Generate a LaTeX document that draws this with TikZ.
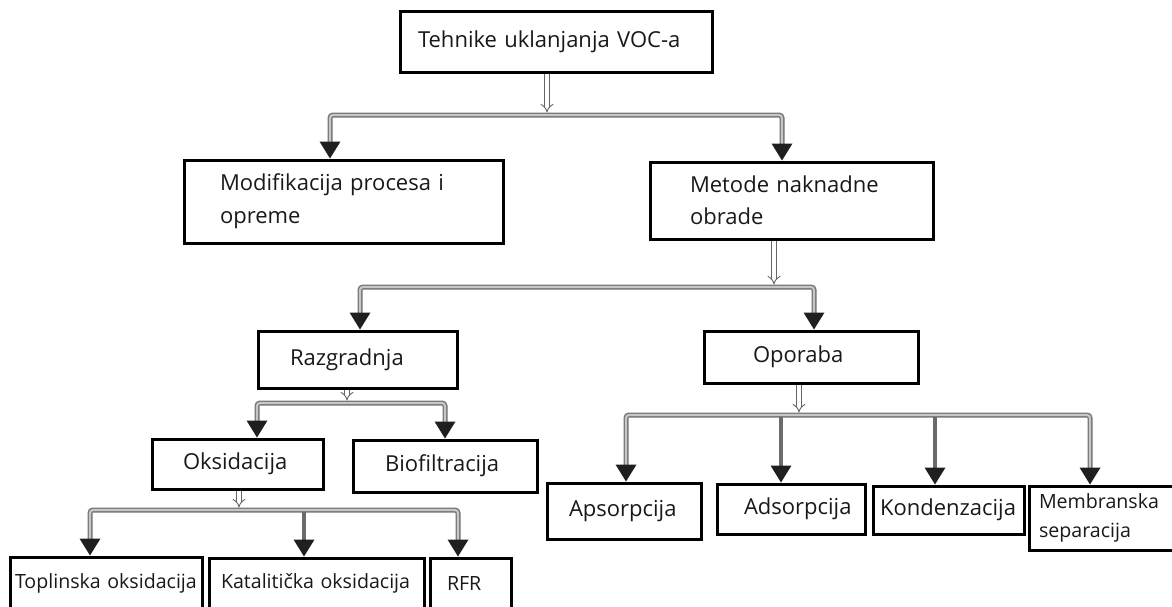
\documentclass[tikz,border=0pt]{standalone}
\usepackage{fontspec}
\setmainfont{Open Sans}
\usetikzlibrary{arrows.meta,calc}
\newcommand\tipto[1]{\fill[tipfill] #1 -- ++(-10.5,-17) -- ++(21,0) -- cycle;}
\begin{document}
\begin{tikzpicture}[x=1pt,y=-1pt,
  box/.style={draw=black, line width=3pt, fill=white, inner xsep=0pt, inner ysep=0pt,
    align=left, text=black!90, font=\fontsize{22}{30}\selectfont},
  small/.style={font=\fontsize{19.6}{29}\selectfont},
  bar/.style={draw=black!55, double=black!22, line width=1.4pt, double distance=2.2pt, rounded corners=3pt},
  stem/.style={draw=black!58, line width=4.4pt},
  dbl/.style={draw=black!60, line width=0.9pt, double=white, double distance=3.6pt, -{Implies}},
  tipfill/.style={fill=black!88}]
\useasboundingbox (0,0) rectangle (1172,606);
\clip (0,0) rectangle (1172,606);

% nodes
\node[box, text width=312pt, minimum height=61pt] (top) at (556,41.5) {\hspace*{18pt}Tehnike uklanjanja VOC-a};
\node[box, text width=319pt, minimum height=83pt, font=\fontsize{22}{33}\selectfont] (modif) at (343.5,201.5)
  {\hspace*{36pt}Modifikacija procesa i\\\hspace*{36pt}opreme};
\node[box, text width=283pt, minimum height=77pt, font=\fontsize{22}{32}\selectfont] (metode) at (791.5,200.5)
  {\hspace*{40pt}Metode naknadne\\\hspace*{40pt}obrade};
\node[box, text width=199pt, minimum height=57pt] (razg) at (357.5,359.5) {\hspace*{32pt}Razgradnja};
\node[box, text width=214pt, minimum height=52pt] (opor) at (811,357) {\hspace*{49pt}Oporaba};
\node[box, text width=171pt, minimum height=50pt] (oks) at (237.5,464) {\hspace*{31pt}Oksidacija};
\node[box, text width=184pt, minimum height=52pt] (bio) at (445,466) {\hspace*{32pt}Biofiltracija};
\node[box, small, text width=192pt, minimum height=52pt] (topl) at (106,583) {\hspace*{5pt}Toplinska oksidacija};
\node[box, small, text width=215pt, minimum height=51pt] (kat) at (316.5,583.5) {\hspace*{12pt}Katalitička oksidacija};
\node[box, small, text width=81pt, minimum height=51pt] (rfr) at (470.5,583.5) {\hspace*{17pt}RFR};
\node[box, text width=154pt, minimum height=56pt] (aps) at (624,511) {\hspace*{22pt}Apsorpcija};
\node[box, text width=148pt, minimum height=50pt] (ads) at (791,509) {\hspace*{27pt}Adsorpcija};
\node[box, text width=151pt, minimum height=48pt] (kond) at (948.5,510) {\hspace*{7pt}Kondenzacija};
\node[box, small, text width=161pt, minimum height=64pt] (memb) at (1109.5,518)
  {\hspace*{10pt}Membranska\\\hspace*{10pt}separacija};

% level 1
\coordinate (j1) at (547,115);
\coordinate (a1) at (330,115);
\coordinate (a2) at (782,115);
\draw[dbl] (top.south -| j1) -- ($(j1)+(0,-2.5)$);
\draw[bar] ($(a1 |- modif.north)+(0,-16)$) -- (a1) -- (a2) -- ($(a2 |- metode.north)+(0,-16)$);
\tipto{(a1 |- modif.north)}
\tipto{(a2 |- metode.north)}

% level 2
\coordinate (j2) at (774,287);
\coordinate (b1) at (360,287);
\coordinate (b2) at (814,287);
\draw[dbl] (metode.south -| j2) -- ($(j2)+(0,-2.5)$);
\draw[bar] ($(b1 |- razg.north)+(0,-16)$) -- (b1) -- (b2) -- ($(b2 |- opor.north)+(0,-16)$);
\tipto{(b1 |- razg.north)}
\tipto{(b2 |- opor.north)}

% level 3
\coordinate (j3) at (347,403);
\coordinate (c1) at (257,403);
\coordinate (c2) at (445,403);
\draw[dbl] (razg.south -| j3) -- ($(j3)+(0,-2.5)$);
\draw[bar] ($(c1 |- oks.north)+(0,-16)$) -- (c1) -- (c2) -- ($(c2 |- bio.north)+(0,-16)$);
\tipto{(c1 |- oks.north)}
\tipto{(c2 |- bio.north)}

% level 4
\coordinate (j4) at (239,510);
\coordinate (d1) at (90,510);
\coordinate (d2) at (304,510);
\coordinate (d3) at (458,510);
\draw[dbl] (oks.south -| j4) -- ($(j4)+(0,-2.5)$);
\draw[bar] ($(d1 |- topl.north)+(0,-16)$) -- (d1) -- (d3) -- ($(d3 |- rfr.north)+(0,-16)$);
\draw[stem] ($(d2)+(0,2)$) -- ($(d2 |- kat.north)+(0,-16)$);
\tipto{(d1 |- topl.north)}
\tipto{(d2 |- kat.north)}
\tipto{(d3 |- rfr.north)}

% level 5
\coordinate (j5) at (799,415);
\coordinate (e1) at (626,415);
\coordinate (e2) at (781,415);
\coordinate (e3) at (935,415);
\coordinate (e4) at (1090,415);
\draw[dbl] (opor.south -| j5) -- ($(j5)+(0,-2.5)$);
\draw[bar] ($(e1 |- aps.north)+(0,-16)$) -- (e1) -- (e4) -- ($(e4 |- memb.north)+(0,-16)$);
\draw[stem] ($(e2)+(0,2)$) -- ($(e2 |- ads.north)+(0,-16)$);
\draw[stem] ($(e3)+(0,2)$) -- ($(e3 |- kond.north)+(0,-16)$);
\tipto{(e1 |- aps.north)}
\tipto{(e2 |- ads.north)}
\tipto{(e3 |- kond.north)}
\tipto{(e4 |- memb.north)}
\end{tikzpicture}
\end{document}
